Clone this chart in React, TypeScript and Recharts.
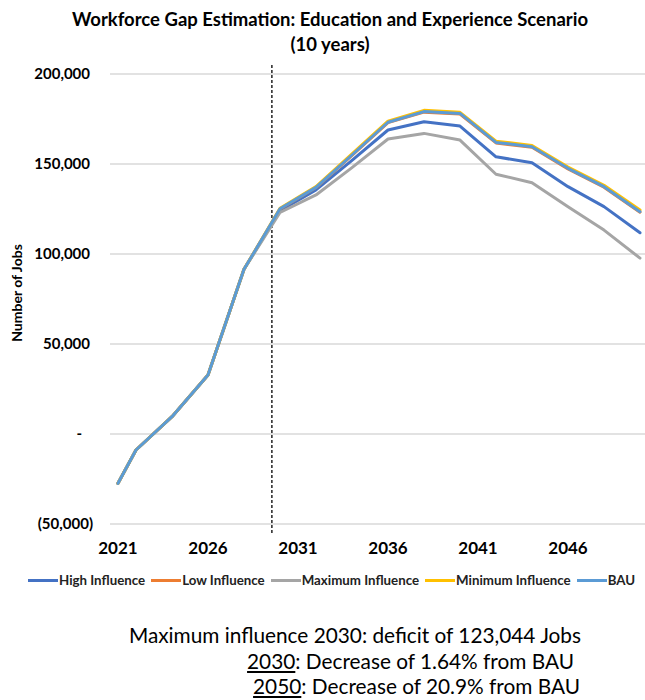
import { LineChart, Line, XAxis, YAxis, CartesianGrid, ReferenceLine } from "recharts";

const years = [2021, 2022, 2024, 2026, 2028, 2030, 2032, 2034, 2036, 2038, 2040, 2042, 2044, 2046, 2048, 2050];

const highInfluence = [-27400, -8900, 9600, 32800, 91500, 124100, 135600, 152000, 168900, 173500, 171100, 154000, 150700, 137400, 126300, 111800];
const lowInfluence = [-27400, -8900, 9600, 32800, 91500, 125000, 136900, 154800, 173000, 178800, 177800, 161700, 159300, 147300, 137100, 123200];
const maxInfluence = [-27400, -8900, 9600, 32800, 91500, 123044, 132800, 148000, 163900, 167000, 163300, 144300, 139600, 126300, 113300, 97700];
const minInfluence = [-27400, -8900, 9600, 32800, 91500, 125400, 137500, 155600, 173800, 179800, 178700, 162700, 160300, 148300, 138200, 124400];
const bau = [-27400, -8900, 9600, 32800, 91500, 125095, 137000, 155000, 173200, 179100, 178100, 162000, 159600, 147600, 137400, 123500];

const xTicks = [2021, 2026, 2031, 2036, 2041, 2046];
const yTicks = [-50000, 0, 50000, 100000, 150000, 200000];

const series = [
  { key: "high", name: "High Influence", color: "#4472C4", values: highInfluence },
  { key: "low", name: "Low Influence", color: "#ED7D31", values: lowInfluence },
  { key: "max", name: "Maximum Influence", color: "#A5A5A5", values: maxInfluence },
  { key: "min", name: "Minimum Influence", color: "#FFC000", values: minInfluence },
  { key: "bau", name: "BAU", color: "#5B9BD5", values: bau },
];

const data = years.map((year, i) => {
  const row: Record<string, number> = { year };
  series.forEach((s) => (row[s.key] = s.values[i]));
  return row;
});

const FONT = "Lato, 'Open Sans', sans-serif";

// accounting style: 200,000 / - / (50,000)
const YTick = (props: any) => {
  const { x, y, payload } = props;
  const v = payload.value as number;
  let label = Math.abs(v).toLocaleString("en-US");
  let dx = 0;
  if (v < 0) {
    label = `(${label})`;
    dx = 3;
  } else if (v === 0) {
    label = "-";
    dx = -8;
  }
  return (
    <text x={x + dx} y={y} dy="0.35em" textAnchor="end" fontSize={15} fontWeight={700} fill="#000" fontFamily={FONT}>
      {label}
    </text>
  );
};

const noteStyle = { position: "absolute" as const, fontSize: 20.8, lineHeight: "25px", whiteSpace: "nowrap" as const };

export default function App() {
  return (
    <div style={{ position: "absolute", left: 0, top: 0, width: 645, height: 700, background: "#fff", fontFamily: FONT, color: "#000", overflow: "hidden" }}>
      <div style={{ position: "absolute", left: 0, top: 7, width: 660, textAlign: "center", fontSize: 18.5, fontWeight: 700, lineHeight: "25px" }}>
        Workforce Gap Estimation: Education and Experience Scenario
        <br />
        (10 years)
      </div>

      <div
        style={{
          position: "absolute",
          left: 16,
          top: 293,
          transform: "translate(-50%, -50%) rotate(-90deg)",
          whiteSpace: "nowrap",
          fontSize: 14,
          fontWeight: 700,
        }}
      >
        Number of Jobs
      </div>

      <div style={{ position: "absolute", left: 0, top: 0 }}>
        <LineChart width={645} height={560} data={data} margin={{ top: 74, right: 0, bottom: 0, left: 0 }}>
          <CartesianGrid vertical={false} stroke="#d9d9d9" strokeWidth={1.5} />
          <XAxis
            dataKey="year"
            type="number"
            domain={[2020.556, 2050.278]}
            ticks={xTicks}
            allowDataOverflow
            axisLine={false}
            tickLine={false}
            tickSize={0}
            tickMargin={18}
            height={36}
            tick={{ fontSize: 17, fontWeight: 700, fill: "#000", fontFamily: FONT }}
          />
          <YAxis
            domain={[-50000, 200000]}
            ticks={yTicks}
            axisLine={false}
            tickLine={false}
            tickSize={0}
            tickMargin={20}
            width={110}
            tick={<YTick />}
          />
          <ReferenceLine
            segment={[
              { x: 2029.55, y: 205000 },
              { x: 2029.55, y: -55000 },
            ]}
            stroke="#000"
            strokeWidth={1.3}
            strokeDasharray="3 2"
            ifOverflow="visible"
          />
          {series.map((s) => (
            <Line
              key={s.key}
              dataKey={s.key}
              name={s.name}
              type="linear"
              stroke={s.color}
              strokeWidth={3}
              strokeLinejoin="round"
              strokeLinecap="round"
              dot={false}
              activeDot={false}
              isAnimationActive={false}
            />
          ))}
        </LineChart>
      </div>

      <div style={{ position: "absolute", left: 28, top: 572, display: "flex", alignItems: "center", fontSize: 13.3, fontWeight: 700, color: "#222", whiteSpace: "nowrap" }}>
        {series.map((s) => (
          <div key={s.key} style={{ display: "flex", alignItems: "center", marginRight: 6, height: 16 }}>
            <span style={{ display: "inline-block", width: 30, height: 3, background: s.color, marginRight: 1 }} />
            {s.name}
          </div>
        ))}
      </div>

      <div style={{ ...noteStyle, right: 64, top: 622 }}>Maximum influence 2030: deficit of 123,044 Jobs</div>
      <div style={{ ...noteStyle, right: 71, top: 648 }}>
        <u>2030</u>: Decrease of 1.64% from BAU
      </div>
      <div style={{ ...noteStyle, right: 65, top: 673 }}>
        <u>2050</u>: Decrease of 20.9% from BAU
      </div>
    </div>
  );
}
